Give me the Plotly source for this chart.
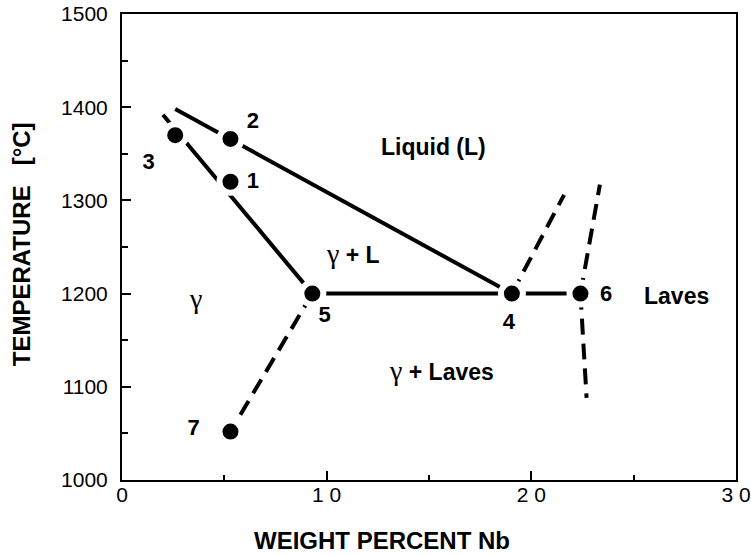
import plotly.graph_objects as go

# ---- data ----
point_labels = ["1", "2", "3", "4", "5", "6", "7"]
point_x = [5.3, 5.3, 2.6, 19.05, 9.3, 22.4, 5.3]
point_y = [1320, 1366, 1370, 1200, 1200, 1200, 1052]

# number label positions
num_x = [6.4, 6.4, 1.3, 18.9, 9.9, 23.65, 3.5]
num_y = [1319, 1384, 1340, 1168, 1175, 1198, 1054]

liquidus_x = [2.6, 19.05]
liquidus_y = [1398, 1200]
solidus_x = [2.0, 9.3]
solidus_y = [1392, 1200]
eutectic_x = [9.3, 22.4]
eutectic_y = [1200, 1200]

solvus_x = [9.3, 5.3]
solvus_y = [1200, 1052]
laves_liq_x = [19.05, 21.6]
laves_liq_y = [1200, 1306]
laves_up_x = [22.4, 23.35]
laves_up_y = [1200, 1317]
laves_down_x = [22.4, 22.7]
laves_down_y = [1200, 1088]

region_text = ["Liquid (L)", "γ + L", "γ", "γ + Laves", "Laves"]
region_x = [15.2, 11.3, 3.6, 15.6, 27.1]
region_y = [1357, 1243, 1195, 1118, 1197]

x_tickvals = [0, 10, 20, 30]
x_ticktext = ["0", "1 0", "2 0", "3 0"]
y_tickvals = [1000, 1100, 1200, 1300, 1400, 1500]
y_ticktext = ["1000", "1100", "1200", "1300", "1400", "1500"]

x_title = "WEIGHT PERCENT Nb"
y_title = "TEMPERATURE   [°C]"

SANS = "Liberation Sans, Arial, Helvetica, sans-serif"
SERIF = "Liberation Serif, Times New Roman, serif"

fig = go.Figure()

solid = dict(color="black", width=4)
dashed = dict(color="black", width=4, dash="16px,9px")

for xs, ys in [(liquidus_x, liquidus_y), (solidus_x, solidus_y), (eutectic_x, eutectic_y)]:
    fig.add_trace(go.Scatter(x=xs, y=ys, mode="lines", line=solid, showlegend=False, hoverinfo="skip"))
for xs, ys in [(solvus_x, solvus_y), (laves_liq_x, laves_liq_y), (laves_up_x, laves_up_y), (laves_down_x, laves_down_y)]:
    fig.add_trace(go.Scatter(x=xs, y=ys, mode="lines", line=dashed, showlegend=False, hoverinfo="skip"))

fig.add_trace(go.Scatter(
    x=point_x, y=point_y, mode="markers",
    marker=dict(size=22, color="black", line=dict(color="white", width=6)),
    showlegend=False, hoverinfo="skip"))

fig.add_trace(go.Scatter(
    x=num_x, y=num_y, mode="text", text=point_labels,
    textfont=dict(family=SANS, size=22, color="black", weight="bold"),
    showlegend=False, hoverinfo="skip"))


def fmt(t):
    parts = t.split("γ")
    s = ""
    for i, p in enumerate(parts):
        if i > 0:
            s += f"<span style='font-family:{SERIF};font-size:28px;font-weight:normal'>γ</span>"
        if p:
            s += f"<b>{p}</b>"
    return s


for t, x, y in zip(region_text, region_x, region_y):
    fig.add_annotation(x=x, y=y, text=fmt(t), showarrow=False,
                       font=dict(family=SANS, size=23, color="black"))

# axis titles as paper annotations
fig.add_annotation(xref="paper", yref="paper", x=0.4235, y=0, yshift=-60,
                   xanchor="center", yanchor="middle", showarrow=False,
                   text=f"<b>{x_title}</b>", font=dict(family=SANS, size=24, color="black"))
fig.add_annotation(xref="paper", yref="paper", x=0, xshift=-101, y=0.506,
                   xanchor="center", yanchor="middle", showarrow=False, textangle=-90,
                   text=f"<b>{y_title}</b>", font=dict(family=SANS, size=24, color="black"))

axis_common = dict(
    showline=True, linecolor="black", linewidth=2, mirror=True,
    ticks="inside", tickcolor="black", tickwidth=2, ticklen=9,
    showgrid=False, zeroline=False, automargin=False,
    tickfont=dict(family=SANS, size=21, color="black"),
)

fig.update_xaxes(
    range=[0, 30], tickvals=x_tickvals, ticktext=x_ticktext,
    minor=dict(ticks="inside", tickvals=[5, 15, 25], ticklen=5, tickwidth=2, tickcolor="black"),
    ticklabelstandoff=-5,
    **axis_common)
fig.update_yaxes(
    range=[1000, 1500], tickvals=y_tickvals, ticktext=y_ticktext,
    minor=dict(ticks="inside", tickvals=[1050, 1150, 1250, 1350, 1450], ticklen=6, tickwidth=2, tickcolor="black"),
    ticklabelstandoff=8,
    **axis_common)

fig.update_layout(
    width=751, height=556,
    margin=dict(l=122, r=15, t=14, b=76),
    paper_bgcolor="white", plot_bgcolor="white",
)

fig.write_html("out.html")
